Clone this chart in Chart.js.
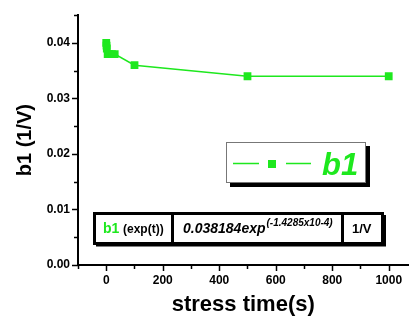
<!DOCTYPE html>
<html>
<head>
<meta charset="utf-8">
<script src="https://cdn.jsdelivr.net/npm/chart.js@4"></script>
<style>
    body { margin: 0; background: #fff; }
    #wrap { width: 414px; height: 322px; }
</style>
</head>
<body>
<div id="wrap"><canvas id="b1Chart" width="414" height="322"></canvas></div>
<script>
// ===== DATA =====
const stressTime = [0, 1, 2, 5, 10, 20, 30, 100, 500, 1000];
const b1Values = [0.0400, 0.0395, 0.0390, 0.0380, 0.0380, 0.0380, 0.0380, 0.0360, 0.0340, 0.0340];
const seriesName = "b1";
const fitLabel = ["b1", "(exp(t))", "0.038184exp", "(-1.4285x10-4)", "1/V"];

const GREEN = "#1ee81e";
const FONT = "'Liberation Sans', Arial, sans-serif";

// ===== TICKS + BOXES PLUGIN =====
const overlayPlugin = {
    id: "overlay",
    afterDraw(chart) {
        const ctx = chart.ctx;
        const xs = chart.scales.x;
        const ys = chart.scales.y;
        const area = chart.chartArea;

        ctx.save();
        ctx.strokeStyle = "#000";
        ctx.lineWidth = 1.5;

        // y ticks (major every 0.01, minor between)
        ys.ticks.forEach(t => {
            const y = Math.round(ys.getPixelForValue(t.value)) + 0.5;
            const major = Math.round(t.value * 1000) % 10 === 0;
            ctx.beginPath();
            ctx.moveTo(area.left, y);
            ctx.lineTo(area.left - (major ? 6 : 4), y);
            ctx.stroke();
        });

        // x ticks (major every 200, minor every 100)
        xs.ticks.forEach(t => {
            const x = Math.round(xs.getPixelForValue(t.value)) + 0.5;
            const major = t.value % 200 === 0;
            ctx.beginPath();
            ctx.moveTo(x, area.bottom);
            ctx.lineTo(x, area.bottom + (major ? 6 : 4));
            ctx.stroke();
        });

        // ----- legend box -----
        const lx = 226, ly = 142, lw = 140, lh = 41;
        ctx.fillStyle = "#000";
        ctx.fillRect(lx + 4, ly + 4, lw, lh);
        ctx.fillStyle = "#fff";
        ctx.fillRect(lx, ly, lw, lh);
        ctx.strokeStyle = "#777";
        ctx.lineWidth = 1;
        ctx.strokeRect(lx + 0.5, ly + 0.5, lw - 1, lh - 1);

        ctx.strokeStyle = GREEN;
        ctx.lineWidth = 1.5;
        ctx.beginPath();
        ctx.moveTo(233, 163.5);
        ctx.lineTo(259, 163.5);
        ctx.moveTo(286, 163.5);
        ctx.lineTo(311, 163.5);
        ctx.stroke();
        ctx.fillStyle = GREEN;
        ctx.fillRect(268, 160, 8, 8);

        ctx.font = "italic bold 31px " + FONT;
        ctx.textBaseline = "alphabetic";
        ctx.textAlign = "left";
        ctx.fillText(seriesName, 322, 175);

        // ----- fit table -----
        const tx = 93, ty = 212, tw = 291, th = 33;
        ctx.fillStyle = "#fff";
        ctx.fillRect(tx, ty, tw, th);
        ctx.strokeStyle = "#000";
        ctx.lineWidth = 3;
        ctx.strokeRect(tx + 1.5, ty + 1.5, tw - 3, th - 3);
        ctx.lineWidth = 2;
        ctx.beginPath();
        ctx.moveTo(tx + 3, ty + th + 0.5);
        ctx.lineTo(tx + tw + 1, ty + th + 0.5);
        ctx.lineTo(tx + tw + 1, ty + 3);
        ctx.stroke();
        ctx.lineWidth = 3;
        ctx.beginPath();
        ctx.moveTo(172.5, ty);
        ctx.lineTo(172.5, ty + th);
        ctx.moveTo(342.5, ty);
        ctx.lineTo(342.5, ty + th);
        ctx.stroke();

        ctx.fillStyle = GREEN;
        ctx.font = "bold 14px " + FONT;
        ctx.fillText(fitLabel[0], 103, 233);
        ctx.fillStyle = "#000";
        ctx.font = "bold 12px " + FONT;
        ctx.fillText(fitLabel[1], 123, 233);

        ctx.font = "italic bold 14px " + FONT;
        ctx.fillText(fitLabel[2], 183, 233);
        const w = ctx.measureText(fitLabel[2]).width;
        ctx.font = "italic bold 10px " + FONT;
        ctx.fillText(fitLabel[3], 183 + w + 1, 226);

        ctx.font = "bold 13px " + FONT;
        ctx.fillText(fitLabel[4], 352, 233);

        ctx.restore();
    }
};

// ===== CHART =====
new Chart(document.getElementById("b1Chart"), {
    type: "scatter",
    data: {
        datasets: [{
            label: seriesName,
            data: stressTime.map((t, i) => ({ x: t, y: b1Values[i] })),
            showLine: true,
            borderColor: GREEN,
            backgroundColor: GREEN,
            borderWidth: 1.5,
            pointStyle: "rect",
            pointRadius: 5.5,
            pointBorderWidth: 0,
            tension: 0
        }]
    },
    options: {
        responsive: false,
        animation: false,
        layout: { padding: { top: 7, right: 0, left: 0, bottom: 0 } },
        plugins: {
            legend: { display: false },
            tooltip: { enabled: false }
        },
        scales: {
            x: {
                type: "linear",
                min: -100,
                max: 1070,
                afterFit: s => { s.height = 57; },
                grid: { display: false, drawTicks: false },
                border: { display: true, color: "#000", width: 2 },
                ticks: {
                    stepSize: 100,
                    includeBounds: false,
                    autoSkip: false,
                    maxRotation: 0,
                    padding: 8,
                    color: "#000",
                    font: { family: FONT, size: 12, weight: "bold" },
                    callback: v => (v >= 0 && v % 200 === 0) ? String(v) : ""
                },
                title: {
                    display: true,
                    text: "stress time(s)",
                    color: "#000",
                    font: { family: FONT, size: 22, weight: "bold" },
                    padding: { top: 0, bottom: 4 }
                }
            },
            y: {
                min: 0,
                max: 0.045,
                afterFit: s => { s.width = 78; },
                grid: { display: false, drawTicks: false },
                border: { display: true, color: "#000", width: 2 },
                ticks: {
                    stepSize: 0.005,
                    autoSkip: false,
                    padding: 8,
                    color: "#000",
                    font: { family: FONT, size: 12, weight: "bold" },
                    callback: v => Math.round(v * 1000) % 10 === 0 ? v.toFixed(2) : ""
                },
                title: {
                    display: true,
                    text: "b1 (1/V)",
                    color: "#000",
                    font: { family: FONT, size: 20, weight: "bold" },
                    padding: { top: 13, bottom: 0 }
                }
            }
        }
    },
    plugins: [overlayPlugin]
});
</script>
</body>
</html>
